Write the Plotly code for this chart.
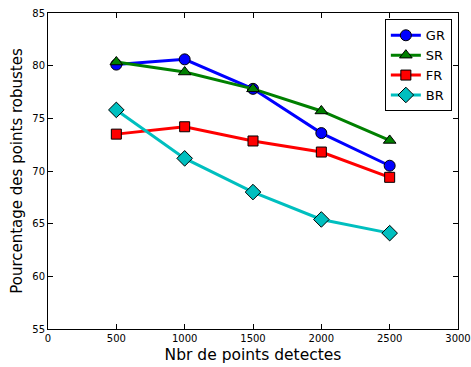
import plotly.graph_objects as go

# Number of detected points
n_points = [500, 1000, 1500, 2000, 2500]

# Percentage of robust points for each detector
gr = [80.1, 80.6, 77.8, 73.6, 70.5]
sr = [80.35, 79.4, 77.8, 75.7, 72.9]
fr = [73.5, 74.2, 72.85, 71.8, 69.4]
br = [75.8, 71.2, 68.0, 65.4, 64.1]

series = [
    ("GR", gr, "#0000ff", "circle", 11),
    ("SR", sr, "#008000", "triangle-up", 11),
    ("FR", fr, "#ff0000", "square", 10),
    ("BR", br, "#00bfbf", "diamond", 12),
]

fig = go.Figure()
for name, vals, color, symbol, size in series:
    fig.add_trace(go.Scatter(
        x=n_points, y=vals, name=name, mode="lines+markers",
        line=dict(color=color, width=3),
        marker=dict(symbol=symbol, size=size, color=color,
                    line=dict(color="black", width=1)),
    ))

axis_common = dict(
    showline=True, linecolor="black", linewidth=1, mirror="allticks",
    ticks="inside", ticklen=5, tickcolor="black", showgrid=False,
    zeroline=False, automargin=False,
    tickfont=dict(family="DejaVu Sans", size=10, color="black"),
)

fig.update_xaxes(range=[0, 3000], tickvals=[0, 500, 1000, 1500, 2000, 2500, 3000],
                 title=dict(text="Nbr de points detectes", standoff=6,
                            font=dict(family="DejaVu Sans", size=15.5, color="black")),
                 **axis_common)
fig.update_yaxes(range=[55, 85], tickvals=[55, 60, 65, 70, 75, 80, 85],
                 title=dict(text="Pourcentage des points robustes", standoff=6,
                            font=dict(family="DejaVu Sans", size=15, color="black")),
                 **axis_common)

fig.update_layout(
    width=471, height=367,
    margin=dict(l=48, r=13, t=13, b=38),
    paper_bgcolor="white", plot_bgcolor="white",
    font=dict(family="DejaVu Sans", color="black"),
    legend=dict(x=0.985, y=0.98, xanchor="right", yanchor="top",
                bordercolor="black", borderwidth=1, bgcolor="white",
                font=dict(family="DejaVu Sans", size=13), tracegroupgap=0,
                itemwidth=30),
    showlegend=True,
)

fig.write_html("out.html")
